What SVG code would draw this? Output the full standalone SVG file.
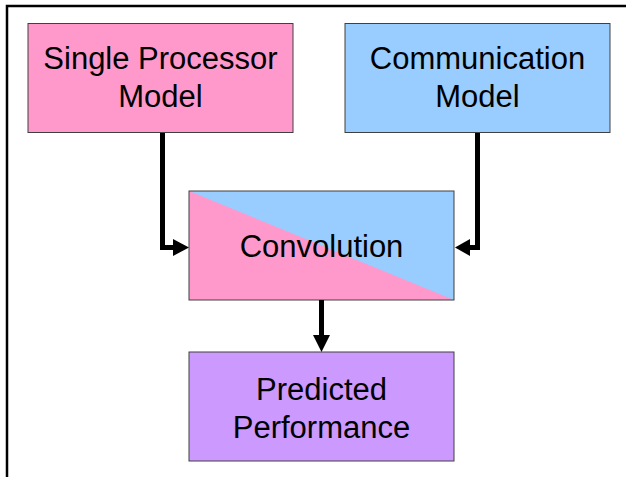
<svg xmlns="http://www.w3.org/2000/svg" width="626" height="477" viewBox="0 0 626 477">
<style>
.box{stroke:#404040;stroke-width:1}
.lbl{font-family:"Liberation Sans",Arial,sans-serif;font-size:31px;fill:#000;text-anchor:middle}
.conn{fill:none;stroke:#000;stroke-width:5}
.head{fill:#000}
</style>
<defs>
<clipPath id="convClip"><rect x="189" y="191" width="265" height="109"/></clipPath>
</defs>
<rect x="0" y="0" width="626" height="477" fill="#fff"/>
<path d="M7 477 V6 H626" fill="none" stroke="#000" stroke-width="2.5"/>
<g id="single-processor">
<rect class="box" x="28" y="23.5" width="265" height="109" fill="#FF99CC"/>
<text class="lbl" x="160.5" y="69">Single Processor</text>
<text class="lbl" x="160.5" y="107">Model</text>
</g>
<g id="communication">
<rect class="box" x="345" y="23.5" width="265" height="109" fill="#99CCFF"/>
<text class="lbl" x="477.5" y="69">Communication</text>
<text class="lbl" x="477.5" y="107">Model</text>
</g>
<g id="convolution">
<g clip-path="url(#convClip)">
<rect x="189" y="191" width="265" height="109" fill="#FF99CC"/>
<polygon points="189,191 454,191 454,300" fill="#99CCFF"/>
</g>
<rect class="box" x="189" y="191" width="265" height="109" fill="none"/>
<text class="lbl" x="321.5" y="257">Convolution</text>
</g>
<g id="predicted">
<rect class="box" x="189" y="352" width="265" height="109" fill="#CC99FF"/>
<text class="lbl" x="321.5" y="400">Predicted</text>
<text class="lbl" x="321.5" y="438">Performance</text>
</g>
<g id="connectors">
<path class="conn" d="M162.5 133 V247.5 H174"/>
<polygon class="head" points="173,239 189,247.5 173,256"/>
<path class="conn" d="M477.5 133 V247.5 H469"/>
<polygon class="head" points="470,239 455,247.5 470,256"/>
<path class="conn" d="M321.5 300 V337"/>
<polygon class="head" points="313,335 321.5,352 330,335"/>
</g>
</svg>
